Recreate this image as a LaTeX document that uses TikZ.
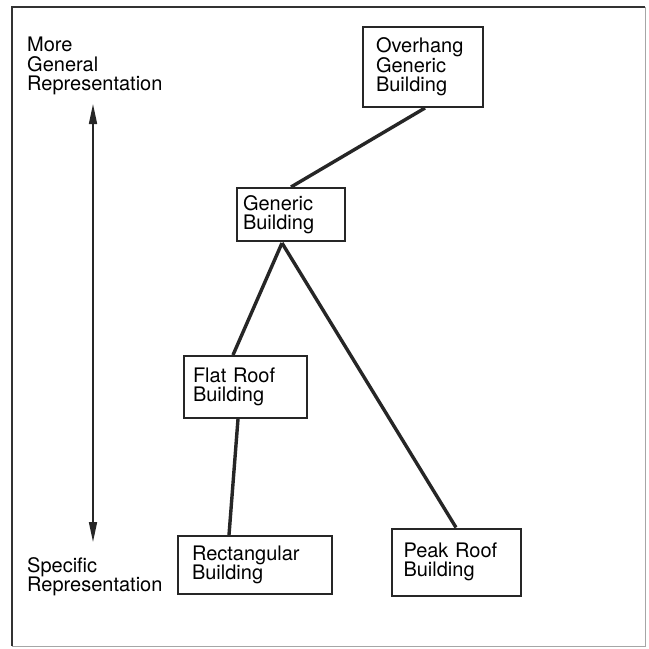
\documentclass[tikz,border=0pt]{standalone}
\usepackage{fontspec}
\setmainfont{TeX Gyre Heros}
\usetikzlibrary{calc,arrows.meta}
\tikzset{
  bbox/.style={draw=black!85, line width=2pt, fill=white, rectangle, align=left,
    inner ysep=0pt, font=\fontsize{20}{19.5}\selectfont, anchor=center},
  link/.style={draw=black!85, line width=3.4pt},
  lbl/.style={align=left, inner sep=0pt, anchor=north west, font=\fontsize{20}{19.5}\selectfont},
}
\begin{document}
\begin{tikzpicture}[x=1pt,y=-1pt]
\useasboundingbox (0,0) rectangle (649,649);
\fill[white] (0,0) rectangle (649,649);
% frame
\draw[black!35, line width=1pt] (645,7) -- (645,646) -- (12,646);
\draw[black!80, line width=1.8pt] (12,646) -- (12,7) -- (645,7);
% boxes
\node[bbox, minimum width=120, minimum height=80, text width=94, inner xsep=13] (ovh) at (423,67) {Overhang\\Generic\\Building};
\node[bbox, minimum width=108, minimum height=53, text width=96, inner xsep=6] (gen) at (291,214.5) {Generic\\Building};
\node[bbox, minimum width=123, minimum height=62, text width=105, inner xsep=9] (flat) at (245.5,387) {Flat Roof\\Building};
\node[bbox, minimum width=154, minimum height=58, text width=126, inner xsep=14] (rect) at (255,565) {Rectangular\\Building};
\node[bbox, minimum width=129, minimum height=67, text width=105, inner xsep=12] (peak) at (456,562) {Peak Roof\\Building};
% side labels
\node[lbl] (more) at (27,37) {More\\General\\Representation};
\node[lbl] (spec) at (27,557) {Specific\\Representation};
\coordinate (atop) at (93,104);
\coordinate (abot) at (93,542);
\draw[black!85, line width=1.6pt, {Triangle[length=20pt,width=8pt]}-{Triangle[length=20pt,width=8pt]}] (atop) -- (abot);
% connectors
\coordinate (gapex) at ($(gen.south)+(-9,1)$);
\draw[link] ($(ovh.south)+(2,0)$) -- (gen.north);
\draw[link] (gapex) -- ($(flat.north)+(-12.5,0)$);
\draw[link] (gapex) -- (peak.north);
\draw[link] ($(flat.south)+(-7.5,0)$) -- ($(rect.north)+(-26,0)$);
\end{tikzpicture}
\end{document}
